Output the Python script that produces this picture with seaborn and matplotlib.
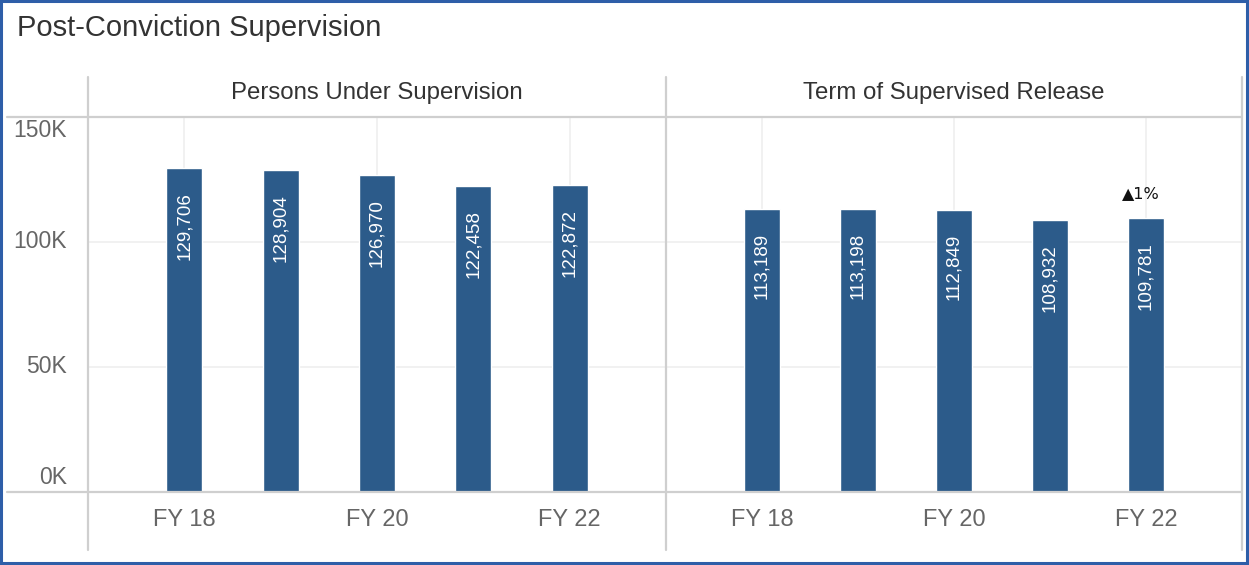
import matplotlib
matplotlib.use("Agg")
import matplotlib.pyplot as plt
import matplotlib.transforms as mtransforms
from matplotlib.lines import Line2D
from matplotlib.patches import Rectangle
import seaborn as sns
import pandas as pd

# ---- data ----
years = ["FY 18", "FY 19", "FY 20", "FY 21", "FY 22"]
tick_labels = ["FY 18", "", "FY 20", "", "FY 22"]
persons_under_supervision = [129706, 128904, 126970, 122458, 122872]
term_supervised_release = [113189, 113198, 112849, 108932, 109781]
panel_titles = ["Persons Under Supervision", "Term of Supervised Release"]
change_label = "\u25B21%"
y_ticks = [0, 50000, 100000, 150000]
y_tick_labels = ["0K", "50K", "100K", "150K"]

sns.set_style("white")
plt.rcParams["font.family"] = ["Liberation Sans", "DejaVu Sans"]

W, H = 1249, 565
fig = plt.figure(figsize=(W / 100, H / 100), dpi=100)
fig.patch.set_facecolor("white")

BAR = "#2C5B8A"
LINE = "#CFCFCF"
GRID = "#EFEFEF"
TICKC = "#666666"
TXT = "#333333"


def fx(px):
    return px / W


def fy(py):
    return 1 - py / H


top, bottom = 117, 492
panels = [(88, 666), (666, 1242)]
series = [persons_under_supervision, term_supervised_release]

axes = []
for (x0, x1), vals, title in zip(panels, series, panel_titles):
    ax = fig.add_axes([fx(x0), fy(bottom), fx(x1 - x0), (bottom - top) / H])
    df = pd.DataFrame({"year": years, "value": vals})
    sns.barplot(data=df, x="year", y="value", ax=ax, color=BAR,
                saturation=1, width=0.375, zorder=3)
    ax.set_xlim(-1, 5)
    ax.set_ylim(0, 150000)
    ax.set_xlabel("")
    ax.set_ylabel("")
    for s in ax.spines.values():
        s.set_visible(False)
    ax.set_facecolor("none")
    # gridlines
    for yv in [50000, 100000]:
        ax.axhline(yv, color=GRID, lw=1.2, zorder=1)
    for i, lab in enumerate(tick_labels):
        if lab:
            ax.axvline(i, color=GRID, lw=1.2, zorder=1)
    ax.set_xticks([0, 2, 4])
    ax.set_xticklabels(["FY 18", "FY 20", "FY 22"])
    ax.tick_params(axis="x", length=7, color=GRID, width=1.2, pad=5,
                   labelsize=17, labelcolor=TICKC)
    if x0 == 88:
        ax.set_yticks(y_ticks)
        ax.set_yticklabels(y_tick_labels)
        ax.tick_params(axis="y", length=10, color=GRID, width=1.2, pad=5,
                       labelsize=16.5, labelcolor=TICKC)
        labs = ax.get_yticklabels()
        labs[0].set_transform(labs[0].get_transform() +
                              mtransforms.ScaledTranslation(0, 17 / 100, fig.dpi_scale_trans))
        labs[-1].set_transform(labs[-1].get_transform() +
                               mtransforms.ScaledTranslation(0, -11 / 100, fig.dpi_scale_trans))
        for l in labs[1:-1]:
            l.set_transform(l.get_transform() +
                            mtransforms.ScaledTranslation(0, 3 / 100, fig.dpi_scale_trans))
    else:
        ax.set_yticks([])
    for i, v in enumerate(vals):
        ax.annotate(f"{v:,}", xy=(i, v), xytext=(0, -17.5), textcoords="offset points",
                    rotation=90, ha="center", va="top", color="white", fontsize=13.5,
                    family=["Liberation Sans Narrow", "Liberation Sans", "DejaVu Sans"],
                    zorder=5)
    fig.text(fx((x0 + x1) / 2), fy(93), title, ha="center", va="center",
             fontsize=17.3, color=TXT)
    axes.append(ax)

# change annotation on last bar of second panel
ax2 = axes[1]
ax2.annotate(change_label, xy=(4, term_supervised_release[-1]), xytext=(-4, 17),
             textcoords="offset points", ha="center", va="center", fontsize=11.5,
             color="#111111", family=["DejaVu Sans"], zorder=5)

# structural lines
def hline(py, xa, xb, c=LINE, lw=1.6):
    fig.add_artist(Line2D([fx(xa), fx(xb)], [fy(py), fy(py)], color=c, lw=lw,
                          transform=fig.transFigure))


def vline(px, ya, yb, c=LINE, lw=1.6):
    fig.add_artist(Line2D([fx(px), fx(px)], [fy(ya), fy(yb)], color=c, lw=lw,
                          transform=fig.transFigure))


hline(117, 7, 1242)
hline(492, 7, 1242)
for px in [88, 666, 1242]:
    vline(px, 77, 550)

# title
fig.text(fx(17), fy(28), "Post-Conviction Supervision", ha="left", va="center",
         fontsize=21, color=TXT)

# figure border
fig.add_artist(Rectangle((0.001, 0.003), 0.9975, 0.995, transform=fig.transFigure,
                         fill=False, edgecolor="#2E5EA8", lw=2.2))

fig.savefig("out.png", dpi=100, facecolor="white")
